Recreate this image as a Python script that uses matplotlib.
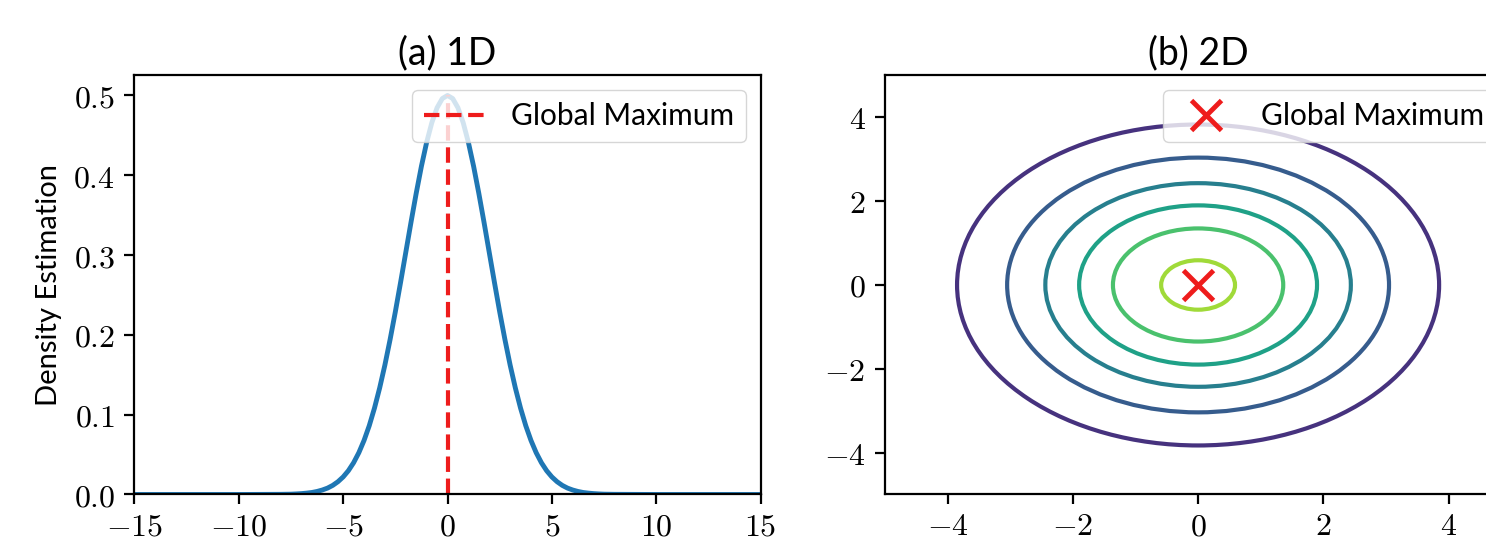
import numpy as np
import matplotlib
matplotlib.use("Agg")
import matplotlib.pyplot as plt
from matplotlib.patches import Ellipse
from matplotlib.ticker import FuncFormatter

# 1D density curve
x_1d = [-15, -10, -8, -7.5, -7.25, -7, -6.75, -6.5, -6.25, -6, -5.75, -5.5, -5.25, -5,
        -4.75, -4.5, -4.25, -4, -3.75, -3.5, -3.25, -3, -2.75, -2.5, -2.25, -2,
        -1.75, -1.5, -1.25, -1, -0.75, -0.5, -0.25, 0,
        0.25, 0.5, 0.75, 1, 1.25, 1.5, 1.75, 2, 2.25, 2.5, 2.75, 3, 3.25, 3.5,
        3.75, 4, 4.25, 4.5, 4.75, 5, 5.25, 5.5, 5.75, 6, 6.25, 6.5, 6.75, 7,
        7.25, 7.5, 8, 10, 15]
density_1d = [0.0, 0.0, 0.0002, 0.0004, 0.0007, 0.0011, 0.0017, 0.0025, 0.0038, 0.0056,
              0.0080, 0.0114, 0.0160, 0.0220, 0.0298, 0.0398, 0.0523, 0.0677, 0.0862,
              0.1082, 0.1336, 0.1623, 0.1943, 0.2289, 0.2656, 0.3033, 0.3410, 0.3774,
              0.4113, 0.4412, 0.4660, 0.4846, 0.4961, 0.5,
              0.4961, 0.4846, 0.4660, 0.4412, 0.4113, 0.3774, 0.3410, 0.3033, 0.2656,
              0.2289, 0.1943, 0.1623, 0.1336, 0.1082, 0.0862, 0.0677, 0.0523, 0.0398,
              0.0298, 0.0220, 0.0160, 0.0114, 0.0080, 0.0056, 0.0038, 0.0025, 0.0017,
              0.0011, 0.0007, 0.0004, 0.0002, 0.0, 0.0]
peak_1d = (0.0, 0.5)

# 2D contour rings (radius in x and y), outer to inner
ring_rx = [3.85, 3.05, 2.44, 1.90, 1.36, 0.59]
ring_ry = [3.83, 3.04, 2.43, 1.90, 1.35, 0.59]
ring_level = [1, 2, 3, 4, 5, 6]
peak_2d = (0.0, 0.0)

plt.rcParams['font.family'] = ['Lato', 'DejaVu Sans']
plt.rcParams['mathtext.fontset'] = 'cm'
plt.rcParams['font.size'] = 21
plt.rcParams['axes.linewidth'] = 1.6
for a in ('xtick', 'ytick'):
    plt.rcParams[a + '.major.size'] = 7
    plt.rcParams[a + '.major.width'] = 1.6
    plt.rcParams[a + '.major.pad'] = 7
    plt.rcParams[a + '.labelsize'] = 23
plt.rcParams['xtick.major.pad'] = 5

fig = plt.figure(figsize=(14.86, 5.4), dpi=100)
ax1 = fig.add_axes([0.0905, 0.0843, 0.4213, 0.7759])
ax2 = fig.add_axes([0.5956, 0.0843, 0.4213, 0.7759])

math_fmt = FuncFormatter(lambda v, p: f'${v:g}$')

# (a) 1D
ax1.plot(x_1d, density_1d, color='#1f77b4', lw=3.5)
ax1.plot([peak_1d[0], peak_1d[0]], [0, peak_1d[1]], '--', color='#ee1c1c', lw=3,
         label='Global Maximum')
ax1.set_xlim(-15, 15)
ax1.set_ylim(0, 0.525)
ax1.set_xticks([-15, -10, -5, 0, 5, 10, 15])
ax1.set_yticks([0, 0.1, 0.2, 0.3, 0.4, 0.5])
ax1.xaxis.set_major_formatter(math_fmt)
ax1.yaxis.set_major_formatter(FuncFormatter(lambda v, p: f'${v:.1f}$'))
ax1.set_ylabel('Density Estimation', labelpad=8)
ax1.set_title('(a) 1D', pad=8, fontsize=27)
ax1.legend(loc='upper right', fontsize=21.5, handlelength=2.1)

# (b) 2D
colors = plt.cm.viridis(np.array(ring_level) / 7)
for rx, ry, c in zip(ring_rx, ring_ry, colors):
    ax2.add_patch(Ellipse((0, 0), 2 * rx, 2 * ry, fill=False, edgecolor=c, lw=3))
ax2.plot(peak_2d[0], peak_2d[1], 'x', color='#ee1c1c', ms=22, mew=3.5, ls='none',
         label='Global Maximum')
ax2.set_xlim(-5, 5)
ax2.set_ylim(-5, 5)
ax2.set_xticks([-4, -2, 0, 2, 4])
ax2.set_yticks([-4, -2, 0, 2, 4])
ax2.xaxis.set_major_formatter(math_fmt)
ax2.yaxis.set_major_formatter(math_fmt)
ax2.set_title('(b) 2D', pad=8, fontsize=27)
ax2.legend(loc='upper right', fontsize=21.5, handlelength=2.1)

fig.savefig('out.png', dpi=100)
